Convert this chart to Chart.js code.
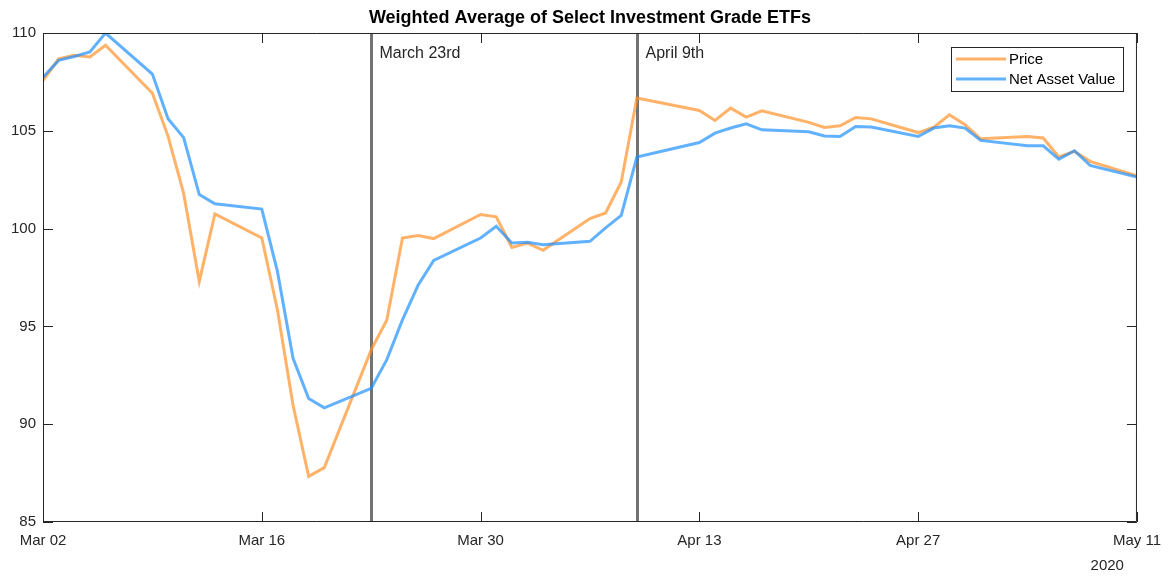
<!DOCTYPE html>
<html>
<head>
<meta charset="utf-8">
<title>Weighted Average of Select Investment Grade ETFs</title>
<script src="https://cdn.jsdelivr.net/npm/chart.js@4/dist/chart.umd.min.js"></script>
<style>
  html, body { margin: 0; padding: 0; background: #fff; }
  #wrap { width: 1171px; height: 578px; position: relative; }
</style>
</head>
<body>
<div id="wrap"><canvas id="etfChart"></canvas></div>
<script>
// trading days, Mar 2 - May 11 2020
const tradeDates = [
  '2020-03-02', '2020-03-03', '2020-03-04', '2020-03-05', '2020-03-06',
  '2020-03-09', '2020-03-10', '2020-03-11', '2020-03-12', '2020-03-13',
  '2020-03-16', '2020-03-17', '2020-03-18', '2020-03-19', '2020-03-20',
  '2020-03-23', '2020-03-24', '2020-03-25', '2020-03-26', '2020-03-27',
  '2020-03-30', '2020-03-31', '2020-04-01', '2020-04-02', '2020-04-03',
  '2020-04-06', '2020-04-07', '2020-04-08', '2020-04-09',
  '2020-04-13', '2020-04-14', '2020-04-15', '2020-04-16', '2020-04-17',
  '2020-04-20', '2020-04-21', '2020-04-22', '2020-04-23', '2020-04-24',
  '2020-04-27', '2020-04-28', '2020-04-29', '2020-04-30', '2020-05-01',
  '2020-05-04', '2020-05-05', '2020-05-06', '2020-05-07', '2020-05-08',
  '2020-05-11'
];

const priceValues = [
  107.57, 108.68, 108.86, 108.77, 109.37,
  106.92, 104.73, 101.80, 97.30, 100.75,
  99.52, 95.85, 90.97, 87.33, 87.78,
  93.80, 95.33, 99.52, 99.65, 99.49,
  100.72, 100.60, 99.04, 99.26, 98.89,
  100.51, 100.80, 102.38, 106.67,
  106.04, 105.53, 106.16, 105.70, 106.02,
  105.43, 105.17, 105.26, 105.68, 105.61,
  104.91, 105.19, 105.82, 105.31, 104.59,
  104.71, 104.63, 103.66, 103.95, 103.44,
  102.70
];

const navValues = [
  107.74, 108.60, 108.80, 109.03, 110.00,
  107.90, 105.62, 104.65, 101.74, 101.27,
  101.00, 97.81, 93.37, 91.31, 90.84,
  91.83, 93.30, 95.33, 97.10, 98.37,
  99.52, 100.12, 99.26, 99.30, 99.18,
  99.35, 100.04, 100.67, 103.66,
  104.40, 104.88, 105.14, 105.36, 105.05,
  104.95, 104.74, 104.71, 105.22, 105.19,
  104.71, 105.14, 105.26, 105.14, 104.51,
  104.23, 104.23, 103.55, 103.98, 103.23,
  102.64
];

const xTickDates = ['2020-03-02', '2020-03-16', '2020-03-30', '2020-04-13', '2020-04-27', '2020-05-11'];
const xTickLabels = ['Mar 02', 'Mar 16', 'Mar 30', 'Apr 13', 'Apr 27', 'May 11'];
const yTicks = [85, 90, 95, 100, 105, 110];

const markerDates = ['2020-03-23', '2020-04-09'];
const markerLabels = ['March 23rd', 'April 9th'];

const seriesNames = ['Price', 'Net Asset Value'];
const chartTitle = 'Weighted Average of Select Investment Grade ETFs';
const yearLabel = '2020';

const DAY = 86400000;
const startMs = Date.parse(tradeDates[0]);
const dayOffset = (d) => Math.round((Date.parse(d) - startMs) / DAY);

const textColor = '#262626';
const axisColor = '#262626';
const fontFamily = 'Helvetica, Arial, "Liberation Sans", sans-serif';

// axes box, inward tick marks, title, year label, legend
const matlabAxes = {
  id: 'matlabAxes',
  beforeDatasetsDraw(chart) {
    const { ctx, chartArea: a, scales: { x } } = chart;
    ctx.save();
    ctx.strokeStyle = 'rgba(90,90,90,0.85)';
    ctx.lineWidth = 3;
    ctx.fillStyle = textColor;
    ctx.font = '16px ' + fontFamily;
    ctx.textAlign = 'left';
    ctx.textBaseline = 'middle';
    markerDates.forEach((d, i) => {
      const px = Math.round(x.getPixelForValue(dayOffset(d))) + 0.5;
      ctx.beginPath();
      ctx.moveTo(px, a.top);
      ctx.lineTo(px, a.bottom);
      ctx.stroke();
      ctx.fillText(markerLabels[i], px + 8, a.top + 21);
    });
    ctx.restore();
  },
  afterDraw(chart) {
    const { ctx, chartArea: a, scales: { x, y } } = chart;
    const tl = 10;
    ctx.save();
    ctx.strokeStyle = axisColor;
    ctx.lineWidth = 1;
    ctx.beginPath();
    ctx.rect(a.left + 0.5, a.top + 0.5, a.right - a.left - 1, a.bottom - a.top - 1);
    ctx.stroke();

    ctx.beginPath();
    xTickDates.forEach(d => {
      const px = Math.round(x.getPixelForValue(dayOffset(d))) + 0.5;
      ctx.moveTo(px, a.bottom);
      ctx.lineTo(px, a.bottom - tl);
      ctx.moveTo(px, a.top);
      ctx.lineTo(px, a.top + tl);
    });
    yTicks.forEach(v => {
      const py = Math.round(y.getPixelForValue(v)) + 0.5;
      ctx.moveTo(a.left, py);
      ctx.lineTo(a.left + tl, py);
      ctx.moveTo(a.right, py);
      ctx.lineTo(a.right - tl, py);
    });
    ctx.stroke();

    // title
    ctx.fillStyle = '#000';
    ctx.font = 'bold 18px ' + fontFamily;
    ctx.textAlign = 'center';
    ctx.textBaseline = 'middle';
    ctx.fillText(chartTitle, (a.left + a.right) / 2, 18);

    // year under the last tick
    ctx.fillStyle = textColor;
    ctx.font = '15px ' + fontFamily;
    ctx.textAlign = 'right';
    ctx.fillText(yearLabel, a.right - 13, a.bottom + 44);

    // legend box
    const bx = 951, by = 47, bw = 172, bh = 44;
    ctx.fillStyle = '#fff';
    ctx.fillRect(bx, by, bw, bh);
    ctx.strokeStyle = axisColor;
    ctx.strokeRect(bx + 0.5, by + 0.5, bw, bh);
    chart.data.datasets.forEach((ds, i) => {
      const ly = by + 12 + i * 20;
      ctx.strokeStyle = ds.borderColor;
      ctx.lineWidth = 3;
      ctx.beginPath();
      ctx.moveTo(bx + 5, ly);
      ctx.lineTo(bx + 55, ly);
      ctx.stroke();
      ctx.fillStyle = '#000';
      ctx.textAlign = 'left';
      ctx.fillText(ds.label, bx + 58, ly + 1);
    });
    ctx.restore();
  }
};

const toPoints = (vals) => tradeDates.map((d, i) => ({ x: dayOffset(d), y: vals[i] }));

new Chart(document.getElementById('etfChart'), {
  type: 'line',
  data: {
    datasets: [
      {
        label: seriesNames[0],
        data: toPoints(priceValues),
        borderColor: 'rgba(255,145,40,0.7)',
        borderWidth: 3,
        pointRadius: 0,
        tension: 0,
        order: 2
      },
      {
        label: seriesNames[1],
        data: toPoints(navValues),
        borderColor: 'rgba(30,144,255,0.7)',
        borderWidth: 3,
        pointRadius: 0,
        tension: 0,
        order: 1
      }
    ]
  },
  options: {
    responsive: true,
    maintainAspectRatio: false,
    animation: false,
    layout: { padding: { left: 0, right: 34, top: 33, bottom: 0 } },
    plugins: {
      legend: { display: false },
      title: { display: false },
      tooltip: { enabled: false }
    },
    scales: {
      x: {
        type: 'linear',
        min: 0,
        max: dayOffset(xTickDates[xTickDates.length - 1]),
        afterBuildTicks: (scale) => {
          scale.ticks = xTickDates.map(d => ({ value: dayOffset(d) }));
        },
        afterFit: (scale) => { scale.height = 56; },
        grid: { display: false, drawTicks: false },
        border: { display: false },
        ticks: {
          autoSkip: false,
          maxRotation: 0,
          padding: 10,
          color: textColor,
          font: { size: 15, family: fontFamily },
          callback: (v) => {
            const i = xTickDates.findIndex(d => dayOffset(d) === v);
            return i >= 0 ? xTickLabels[i] : '';
          }
        }
      },
      y: {
        min: yTicks[0],
        max: yTicks[yTicks.length - 1],
        afterBuildTicks: (scale) => {
          scale.ticks = yTicks.map(v => ({ value: v }));
        },
        afterFit: (scale) => { scale.width = 43; },
        grid: { display: false, drawTicks: false },
        border: { display: false },
        ticks: {
          padding: 7,
          color: textColor,
          font: { size: 15, family: fontFamily }
        }
      }
    }
  },
  plugins: [matlabAxes]
});
</script>
</body>
</html>
